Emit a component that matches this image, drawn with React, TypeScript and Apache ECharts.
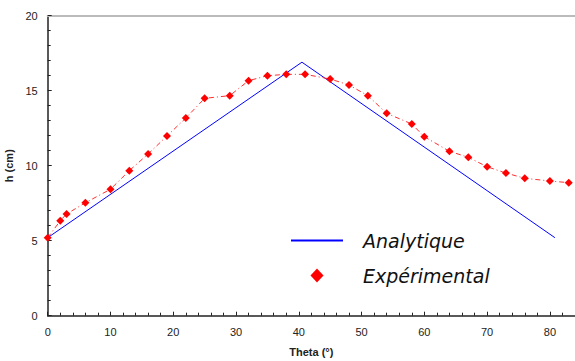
import React, { useEffect, useRef } from "react";
import * as echarts from "echarts";

const analyticTheta = [0, 40.5, 80.8];
const analyticH = [5.2, 16.9, 5.2];

const expTheta = [0, 2, 3, 6, 10, 13, 16, 19, 22, 25, 29, 32, 35, 38, 41, 45, 48, 51, 54, 58, 60, 64, 67, 70, 73, 76, 80, 83];
const expH = [5.2, 6.33, 6.78, 7.53, 8.43, 9.67, 10.78, 11.98, 13.18, 14.49, 14.67, 15.67, 16.0, 16.09, 16.09, 15.78, 15.38, 14.67, 13.49, 12.78, 11.93, 10.96, 10.56, 9.93, 9.51, 9.16, 8.98, 8.87];

const xName = "Theta (°)";
const yName = "h (cm)";
const seriesNames = ["Analytique", "Expérimental"];

export default function App() {
  const ref = useRef<HTMLDivElement>(null);
  useEffect(() => {
    if (!ref.current) return;
    const chart = echarts.init(ref.current, null, { renderer: "svg" });
    const axisColor = "#222";
    chart.setOption({
      animation: false,
      backgroundColor: "#fff",
      grid: { left: 47.7, right: 0, top: 15.7, bottom: 45.3, containLabel: false, outerBoundsMode: "none" },
      legend: {
        orient: "vertical",
        left: 286,
        top: 226,
        itemWidth: 52,
        itemHeight: 14,
        itemGap: 16,
        symbolKeepAspect: true,
        data: [
          {
            name: seriesNames[0],
            icon: "path://M0,0 L0.01,0 L0.01,0.01 Z M0,6 L52,6 L52,8 L0,8 Z M0,13.99 L0.01,13.99 L0.01,14 Z",
          },
          { name: seriesNames[1], icon: "path://M7,0 L13.5,7 L7,14 L0.5,7 Z" },
        ],
        textStyle: {
          fontFamily: "DejaVu Sans",
          fontStyle: "italic",
          fontSize: 19,
          color: "#111",
          padding: [0, 0, 0, 15],
        },
      },
      xAxis: [
        {
          type: "value",
          min: 0,
          max: 84,
          interval: 10,
          name: xName,
          nameLocation: "middle",
          nameGap: 31,
          nameTextStyle: { fontFamily: "Liberation Sans", fontWeight: "bold", fontSize: 11, color: axisColor },
          axisLine: { show: true, lineStyle: { color: axisColor, width: 1.5 } },
          axisTick: { show: true, inside: true, length: 4, lineStyle: { color: axisColor } },
          minorTick: { show: true, splitNumber: 5, length: 3, lineStyle: { color: axisColor } },
          axisLabel: {
            margin: 11,
            fontFamily: "Liberation Sans",
            fontSize: 11,
            color: axisColor,
            formatter: (v: number) => (v > 80 ? "" : String(v)),
          },
          splitLine: { show: false },
        },
        {
          type: "value",
          position: "top",
          min: 0,
          max: 84,
          axisLine: { show: true, lineStyle: { color: "#bbb", width: 2 } },
          axisTick: { show: false },
          axisLabel: { show: false },
          splitLine: { show: false },
        },
      ],
      yAxis: {
        type: "value",
        min: 0,
        max: 20,
        interval: 5,
        name: yName,
        nameLocation: "middle",
        nameGap: 28,
        nameTextStyle: { fontFamily: "Liberation Sans", fontWeight: "bold", fontSize: 11, color: axisColor },
        axisLine: { show: true, lineStyle: { color: axisColor, width: 1.5 } },
        axisTick: { show: true, inside: true, length: 4, lineStyle: { color: axisColor } },
        minorTick: { show: true, splitNumber: 5, length: 3, lineStyle: { color: axisColor } },
        axisLabel: { margin: 10, fontFamily: "Liberation Sans", fontSize: 11, color: axisColor },
        splitLine: { show: false },
      },
      series: [
        {
          name: seriesNames[0],
          type: "line",
          xAxisIndex: 0,
          data: analyticTheta.map((t, i) => [t, analyticH[i]]),
          symbol: "none",
          lineStyle: { color: "#0000ff", width: 1 },
          itemStyle: { color: "#0000ff" },
          z: 2,
        },
        {
          name: seriesNames[1],
          type: "line",
          xAxisIndex: 0,
          data: expTheta.map((t, i) => [t, expH[i]]),
          symbol: "diamond",
          symbolSize: 8,
          itemStyle: { color: "#ff0000" },
          lineStyle: { color: "#ff3030", width: 1, type: [5, 3, 1, 3] },
          z: 3,
        },
      ],
    });
    return () => chart.dispose();
  }, []);
  return <div ref={ref} style={{ width: 575, height: 361, position: "absolute", left: 0, top: 0 }} />;
}
